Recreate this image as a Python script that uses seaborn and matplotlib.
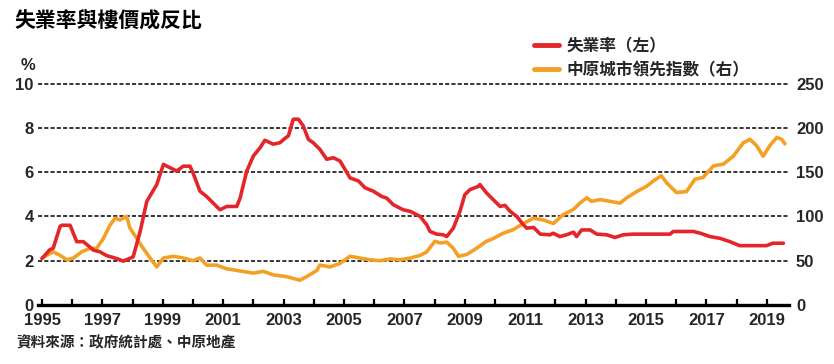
import matplotlib
matplotlib.use("Agg")
import matplotlib.pyplot as plt
from matplotlib.lines import Line2D
import seaborn as sns
import pandas as pd

# ---- data ----
unemp_t = [1995.0, 1995.26, 1995.37, 1995.6, 1995.65, 1995.93, 1996.15, 1996.37, 1996.53, 1996.7,
           1996.92, 1997.14, 1997.47, 1997.69, 1997.97, 1998.02, 1998.25, 1998.47, 1998.8, 1999.02,
           1999.24, 1999.46, 1999.68, 1999.9, 2000.0, 2000.23, 2000.45, 2000.67, 2000.89, 2001.12,
           2001.45, 2001.56, 2001.78, 2002.0, 2002.22, 2002.38, 2002.66, 2002.88, 2003.05, 2003.16,
           2003.32, 2003.49, 2003.65, 2003.82, 2003.98, 2004.2, 2004.43, 2004.65, 2004.87, 2005.2,
           2005.48, 2005.7, 2005.97, 2006.25, 2006.41, 2006.63, 2006.96, 2007.19, 2007.52, 2007.74,
           2007.85, 2008.07, 2008.29, 2008.4, 2008.62, 2008.84, 2009.0, 2009.17, 2009.45, 2009.5,
           2009.72, 2009.94, 2010.17, 2010.33, 2010.5, 2010.72, 2010.94, 2011.05, 2011.28, 2011.5,
           2011.82, 2011.93, 2012.15, 2012.37, 2012.6, 2012.7, 2012.87, 2013.15, 2013.37, 2013.7,
           2013.97, 2014.25, 2014.58, 2015.8, 2015.9, 2016.57, 2016.8, 2017.12, 2017.45, 2017.78,
           2018.1, 2018.99, 2019.2, 2019.55]
unemp_v = [2.1, 2.5, 2.56, 3.55, 3.6, 3.6, 2.86, 2.86, 2.68, 2.48,
           2.4, 2.23, 2.1, 1.98, 2.14, 2.18, 3.32, 4.68, 5.44, 6.35,
           6.2, 6.05, 6.27, 6.27, 5.97, 5.14, 4.9, 4.6, 4.3, 4.45,
           4.45, 4.83, 6.05, 6.73, 7.1, 7.44, 7.26, 7.33, 7.53, 7.64,
           8.39, 8.39, 8.09, 7.48, 7.33, 7.03, 6.58, 6.65, 6.5, 5.74,
           5.6, 5.29, 5.14, 4.9, 4.83, 4.53, 4.3, 4.23, 4.0, 3.62,
           3.32, 3.2, 3.17, 3.09, 3.47, 4.23, 4.98, 5.21, 5.36, 5.44,
           5.06, 4.76, 4.45, 4.5, 4.23, 4.0, 3.62, 3.47, 3.5, 3.2,
           3.17, 3.24, 3.09, 3.17, 3.29, 3.09, 3.39, 3.39, 3.2, 3.17,
           3.05, 3.17, 3.2, 3.2, 3.32, 3.32, 3.24, 3.09, 3.01, 2.86,
           2.68, 2.68, 2.79, 2.79]

cci_t = [1995.0, 1995.26, 1995.37, 1995.6, 1995.82, 1996.04, 1996.31, 1996.59, 1996.81, 1997.03,
         1997.25, 1997.42, 1997.58, 1997.8, 1997.91, 1998.14, 1998.35, 1998.58, 1998.8, 1999.02,
         1999.35, 1999.68, 2000.0, 2000.23, 2000.45, 2000.78, 2001.1, 2001.45, 2002.0, 2002.33,
         2002.66, 2003.1, 2003.54, 2003.76, 2004.1, 2004.2, 2004.54, 2004.87, 2005.2, 2005.53,
         2005.86, 2006.19, 2006.52, 2006.85, 2007.19, 2007.52, 2007.74, 2008.01, 2008.18, 2008.4,
         2008.62, 2008.79, 2009.06, 2009.39, 2009.72, 2009.94, 2010.27, 2010.6, 2010.94, 2011.27,
         2011.6, 2011.93, 2012.26, 2012.6, 2012.81, 2013.04, 2013.2, 2013.48, 2013.81, 2014.14,
         2014.36, 2014.69, 2015.02, 2015.24, 2015.51, 2015.68, 2016.01, 2016.34, 2016.62, 2016.89,
         2017.23, 2017.56, 2017.89, 2018.22, 2018.44, 2018.66, 2018.88, 2019.1, 2019.33, 2019.49,
         2019.6]
cci_v = [53, 58, 60, 56, 51, 53, 60, 64, 64, 75,
         90, 98, 96, 100, 87, 75, 64, 53, 43, 53,
         55, 53, 50, 53, 45, 45, 41, 39, 36, 38,
         34, 32, 28, 32, 39, 45, 43, 47, 55, 53,
         51, 50, 52, 51, 53, 56, 60, 72, 70, 71,
         64, 55, 57, 64, 72, 75, 81, 85, 92, 98,
         96, 92, 102, 108, 115, 121, 117, 119, 117, 115,
         121, 128, 134, 140, 146, 138, 127, 128, 142, 144,
         157, 159, 168, 183, 187, 180, 168, 180, 189, 187,
         182]

left_ticks = [0, 2, 4, 6, 8, 10]
right_ticks = [0, 50, 100, 150, 200, 250]
year_labels = list(range(1995, 2020, 2))

title = "失業率與樓價成反比"
unemp_label = "失業率（左）"
cci_label = "中原城市領先指數（右）"
source = "資料來源：政府統計處、中原地產"

# ---- style ----
sns.set_style("white")
plt.rcParams["font.family"] = ["Liberation Sans", "DejaVu Sans"]
CJK = ["Noto Sans CJK TC", "DejaVu Sans"]
RED = "#E3262A"
ORANGE = "#F4A025"

df_u = pd.DataFrame({"year": unemp_t, "value": unemp_v})
df_c = pd.DataFrame({"year": cci_t, "value": cci_v})

W, H = 834, 364
fig = plt.figure(figsize=(W / 100, H / 100), dpi=100)
ax = fig.add_axes([38 / W, 1 - 305 / H, (789 - 38) / W, (305 - 83) / H])
ax2 = ax.twinx()

# orange index on main axis (right labels), red unemployment on twin (left labels, on top)
sns.lineplot(data=df_c, x="year", y="value", ax=ax, color=ORANGE, linewidth=2.6, legend=False)
sns.lineplot(data=df_u, x="year", y="value", ax=ax2, color=RED, linewidth=2.6, legend=False)

xmin = 1995 - 4 / 30.2
xmax = 1995 + (789 - 42) / 30.2
ax.set_xlim(xmin, xmax)
ax.set_ylim(0, 250.6)
ax2.set_ylim(0, 10.025)

ax.set_xlabel("")
ax.set_ylabel("")
ax2.set_xlabel("")
ax2.set_ylabel("")

# right axis (main)
ax.yaxis.tick_right()
ax.set_yticks(right_ticks)
ax.set_yticklabels([str(v) for v in right_ticks])
for lab in ax.get_yticklabels():
    lab.set_fontweight("bold")
    lab.set_fontsize(12)
ax.get_yticklabels()[0].set_visible(False)
ax.tick_params(axis="y", which="both", length=0, pad=5, right=True, left=False,
               labelright=True, labelleft=False)

# left axis (twin)
ax2.yaxis.tick_left()
ax2.set_yticks(left_ticks)
ax2.set_yticklabels([str(v) for v in left_ticks])
for lab in ax2.get_yticklabels():
    lab.set_fontweight("bold")
    lab.set_fontsize(12)
ax2.tick_params(axis="y", which="both", length=0, pad=3, left=True, right=False,
                labelleft=True, labelright=False)

# grid
ax.yaxis.grid(True, color="black", linewidth=1.1, linestyle=(0, (2.7, 1.4)))
ax.xaxis.grid(False)
ax2.grid(False)
ax.set_axisbelow(True)

# x axis
ax.set_xticks(list(range(1995, 2020)))
ax.set_xticklabels([str(y) if y in year_labels else "" for y in range(1995, 2020)])
for lab in ax.get_xticklabels():
    lab.set_fontweight("bold")
    lab.set_fontsize(12)
ax.tick_params(axis="x", direction="in", length=4.5, width=1.6, color="black", pad=6,
               bottom=True)
ax2.tick_params(axis="x", length=0)

for a in (ax, ax2):
    for s in ("left", "right", "top"):
        a.spines[s].set_visible(False)
ax2.spines["bottom"].set_visible(False)
ax.spines["bottom"].set_color("black")
ax.spines["bottom"].set_linewidth(2.4)

# texts
fig.text(14 / W, 1 - 10 / H, title, family=CJK, fontsize=15, fontweight="bold",
         va="top", ha="left", color="black")
fig.text(21 / W, 1 - 65 / H, "%", fontsize=12, fontweight="bold", va="center", ha="left")
fig.text(16 / W, 1 - 342 / H, source, family=CJK, fontsize=10.5, fontweight="bold",
         va="center", ha="left")

handles = [Line2D([0], [0], color=RED, linewidth=3.5),
           Line2D([0], [0], color=ORANGE, linewidth=3.5)]
leg = fig.legend(handles, [unemp_label, cci_label], loc="upper left",
                 bbox_to_anchor=(534 / W, 1 - 37 / H), frameon=False,
                 prop={"family": CJK, "size": 12, "weight": "bold"},
                 handlelength=1.5, handletextpad=0.45, labelspacing=0.38,
                 borderaxespad=0, borderpad=0)

fig.savefig("out.png", dpi=100)
